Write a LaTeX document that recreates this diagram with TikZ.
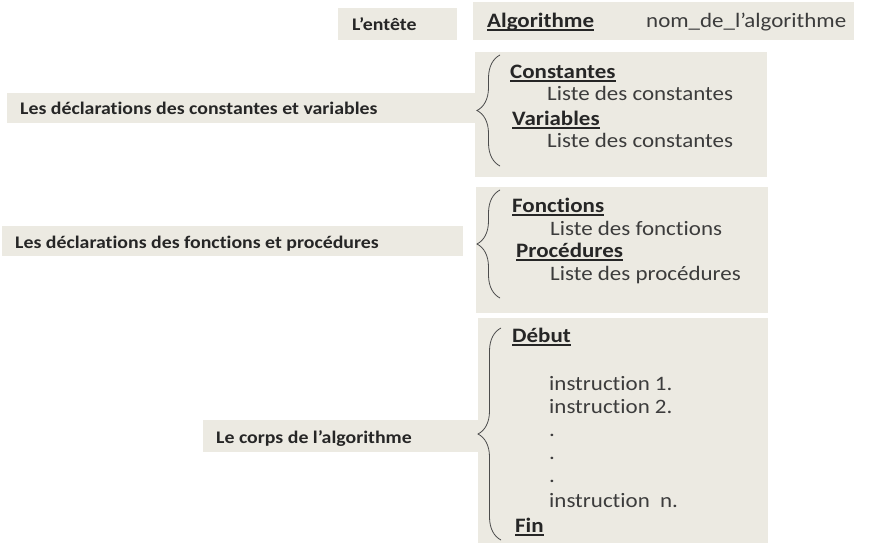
\documentclass[tikz,border=0pt]{standalone}
\usepackage{fontspec}
\setmainfont{Carlito}[FakeStretch=1.12,Ligatures=NoCommon]
\usetikzlibrary{decorations.pathreplacing}
\definecolor{boxfill}{RGB}{236,234,226}
\definecolor{txtgray}{RGB}{60,60,60}
\newsavebox{\soulbox}
\newcommand{\souligne}[1]{\sbox{\soulbox}{#1}\rlap{\rule[-3.5pt]{\wd\soulbox}{1.6pt}}\usebox{\soulbox}}

\begin{document}
\begin{tikzpicture}[x=1pt,y=-1pt,
  bloc/.style={fill=boxfill,inner sep=0pt,anchor=north west},
  titre/.style={anchor=base west,inner sep=0pt,font=\fontsize{17.7}{20}\selectfont\bfseries,text=black!85},
  mot/.style={anchor=base west,inner sep=0pt,font=\fontsize{20.5}{24}\selectfont\bfseries,text=black!85},
  ligne/.style={anchor=base west,inner sep=0pt,font=\fontsize{20.5}{24}\selectfont,text=txtgray},
  accolade/.style={decorate,decoration={brace,amplitude=23pt},draw=black!70,line width=0.8pt}]
\useasboundingbox (0,0) rectangle (872,547);
% boxes
\node[bloc,minimum width=119pt,minimum height=32pt] (entetebox) at (338,8) {};
\node[bloc,minimum width=381pt,minimum height=38pt] (algobox) at (473,2) {};
\node[bloc,minimum width=470pt,minimum height=30pt] (cvlabelbox) at (7,93) {};
\node[bloc,minimum width=292pt,minimum height=125pt] (cvbox) at (475,52) {};
\node[bloc,minimum width=461pt,minimum height=30pt] (fplabelbox) at (2,226) {};
\node[bloc,minimum width=292pt,minimum height=126pt] (fpbox) at (476,187) {};
\node[bloc,minimum width=275pt,minimum height=32pt] (corpslabelbox) at (203,420) {};
\node[bloc,minimum width=290pt,minimum height=225pt] (corpsbox) at (478,318) {};
% left labels
\node[titre] (entete) at (352,30) {L’entête};
\node[titre] (cvlabel) at (20,114) {Les déclarations des constantes et variables};
\node[titre] (fplabel) at (15,248) {Les déclarations des fonctions et procédures};
\node[titre] (corpslabel) at (216,443) {Le corps de l’algorithme};
% header
\node[mot] (algo) at (487,27) {\souligne{Algorithme}};
\node[ligne] (nomalgo) at (646,27) {nom\_de\_l’algorithme};
% constantes et variables
\node[mot] (constantes) at (510,78) {\souligne{Constantes}};
\node[ligne] (listec) at (547,100) {Liste des constantes};
\node[mot] (variables) at (512,125) {\souligne{Variables}};
\node[ligne] (listev) at (547,147) {Liste des constantes};
% fonctions et procedures
\node[mot] (fonctions) at (512,212) {\souligne{Fonctions}};
\node[ligne] (listef) at (550,235) {Liste des fonctions};
\node[mot] (procedures) at (516,257) {\souligne{Procédures}};
\node[ligne] (listep) at (550,280) {Liste des procédures};
% corps
\node[mot] (debut) at (512,342) {\souligne{Début}};
\node[ligne] (instr1) at (549,390) {instruction 1.};
\node[ligne] (instr2) at (549,413) {instruction 2.};
\foreach \y/\n in {436/a,459/b,482/c}
  \node[ligne] (point\n) at (549,\y) {.};
\node[ligne] (instrn) at (549,507) {instruction\ \ n.};
\node[mot] (fin) at (515,532) {\souligne{Fin}};
% braces
\coordinate (cvbas) at (500,166);
\coordinate (cvhaut) at (500,55);
\coordinate (fpbas) at (500,298);
\coordinate (fphaut) at (500,190);
\coordinate (corpsbas) at (501,540);
\coordinate (corpshaut) at (501,328);
\draw[accolade] (cvbas) -- (cvhaut);
\draw[accolade] (fpbas) -- (fphaut);
\draw[accolade] (corpsbas) -- (corpshaut);
\end{tikzpicture}
\end{document}
